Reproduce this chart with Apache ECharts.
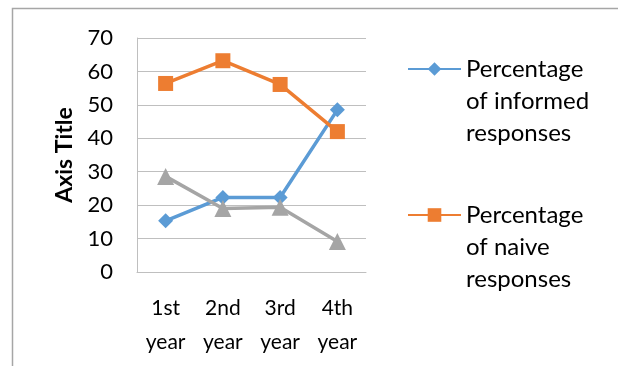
<!DOCTYPE html>
<html>
<head>
<meta charset="utf-8">
<script src="https://cdn.jsdelivr.net/npm/echarts@6/dist/echarts.min.js"></script>
<style>
html,body{margin:0;padding:0;background:#fff;}
#chart{width:618px;height:366px;}
</style>
</head>
<body>
<div id="chart"></div>
<script>
const categories = ['1st\nyear', '2nd\nyear', '3rd\nyear', '4th\nyear'];
const informed = [15.3, 22.3, 22.3, 48.5];
const naive = [56.4, 63.2, 56.1, 42.0];
const other = [28.6, 19.0, 19.4, 9.1];
const seriesNames = ['Percentage\nof informed\nresponses', 'Percentage\nof naive\nresponses', 'Other'];
const yTicks = [0, 10, 20, 30, 40, 50, 60, 70];

const FONT = 'Lato';
const chart = echarts.init(document.getElementById('chart'));
const legendText = {
  fontFamily: FONT, fontSize: 24, color: '#000', lineHeight: 32
};
const legendFormatter = name => '\n\n' + name;
chart.setOption({
  animation: false,
  backgroundColor: '#fff',
  graphic: [{
    type: 'rect', silent: true,
    shape: {x: 12.5, y: 8.5, width: 700, height: 500},
    style: {fill: 'none', stroke: '#a6a6a6', lineWidth: 1.5}
  }],
  grid: {left: 137, top: 38, right: 252, bottom: 94},
  legend: [{
    data: [seriesNames[0]],
    left: 402, top: -16,
    itemWidth: 53, itemHeight: 17,
    formatter: legendFormatter,
    textStyle: legendText
  }, {
    data: [seriesNames[1]],
    left: 402, top: 130,
    itemWidth: 53, itemHeight: 17,
    formatter: legendFormatter,
    textStyle: legendText
  }],
  xAxis: {
    type: 'category',
    data: categories,
    boundaryGap: true,
    axisLine: {lineStyle: {color: '#bfbfbf', width: 1}},
    axisTick: {show: false},
    axisLabel: {fontFamily: FONT, fontSize: 21, color: '#000', lineHeight: 34, margin: 19, interval: 0}
  },
  yAxis: {
    type: 'value',
    min: yTicks[0], max: yTicks[yTicks.length - 1], interval: 10,
    name: 'Axis Title',
    nameLocation: 'middle',
    nameGap: 61,
    nameRotate: 90,
    nameTextStyle: {fontFamily: FONT, fontSize: 23, fontWeight: 'bold', color: '#000'},
    axisLine: {show: true, lineStyle: {color: '#bfbfbf', width: 1}},
    axisTick: {show: false},
    splitLine: {lineStyle: {color: '#bfbfbf', width: 1}},
    axisLabel: {fontFamily: FONT, fontSize: 22, color: '#000', margin: 24}
  },
  series: [{
    name: seriesNames[0], type: 'line', data: informed,
    symbol: 'diamond', symbolSize: 15,
    lineStyle: {color: '#5B9BD5', width: 3.5},
    itemStyle: {color: '#5B9BD5'}
  }, {
    name: seriesNames[1], type: 'line', data: naive,
    symbol: 'rect', symbolSize: 15,
    lineStyle: {color: '#ED7D31', width: 3.5},
    itemStyle: {color: '#ED7D31'}
  }, {
    name: seriesNames[2], type: 'line', data: other,
    symbol: 'triangle', symbolSize: 17,
    lineStyle: {color: '#A5A5A5', width: 3.5},
    itemStyle: {color: '#A5A5A5'}
  }]
});
</script>
</body>
</html>
